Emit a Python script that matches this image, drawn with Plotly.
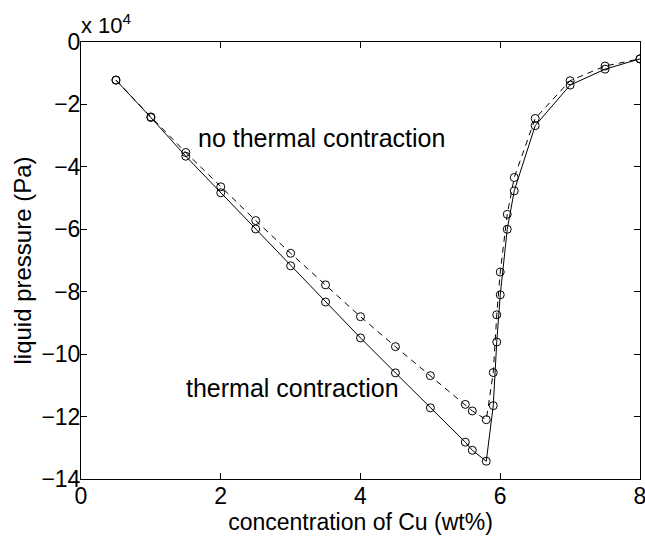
import plotly.graph_objects as go

# concentration of Cu (wt%)
cu = [0.5, 1.0, 1.5, 2.0, 2.5, 3.0, 3.5, 4.0, 4.5, 5.0, 5.5, 5.6, 5.8,
      5.9, 5.95, 6.0, 6.1, 6.2, 6.5, 7.0, 7.5, 8.0]
# liquid pressure (x 10^4 Pa)
p_thermal = [-1.22, -2.42, -3.66, -4.83, -5.99, -7.17, -8.33, -9.48, -10.60,
             -11.72, -12.82, -13.08, -13.43, -11.65, -9.61, -8.10, -6.00,
             -4.77, -2.68, -1.38, -0.87, -0.54]
p_no_thermal = [-1.22, -2.40, -3.54, -4.64, -5.72, -6.77, -7.78, -8.80, -9.76,
                -10.69, -11.61, -11.82, -12.10, -10.59, -8.74, -7.37, -5.52,
                -4.34, -2.45, -1.24, -0.77, -0.54]

x_ticks = [0, 2, 4, 6, 8]
y_ticks = [0, -2, -4, -6, -8, -10, -12, -14]
y_tick_text = ["0", "\u22122", "\u22124", "\u22126", "\u22128", "\u221210", "\u221212", "\u221214"]

FONT = "Liberation Sans, Arial, Helvetica, sans-serif"

fig = go.Figure()
fig.add_trace(go.Scatter(
    x=cu, y=p_no_thermal, mode="lines+markers",
    line=dict(color="black", width=1, dash="6px,5px"),
    marker=dict(symbol="circle-open", size=8, color="black", line=dict(width=1)),
    showlegend=False))
fig.add_trace(go.Scatter(
    x=cu, y=p_thermal, mode="lines+markers",
    line=dict(color="black", width=1),
    marker=dict(symbol="circle-open", size=8, color="black", line=dict(width=1)),
    showlegend=False))

fig.add_annotation(x=1.64, y=-3.08, text="no thermal contraction", showarrow=False,
                   xanchor="left", yanchor="middle", font=dict(size=25, color="black", family=FONT))
fig.add_annotation(x=1.48, y=-11.09, text="thermal contraction", showarrow=False,
                   xanchor="left", yanchor="middle", font=dict(size=25, color="black", family=FONT))
fig.add_annotation(x=0, y=1.0, xref="x", yref="paper", text="x 10<sup>4</sup>", showarrow=False,
                   xanchor="left", yanchor="bottom", xshift=-2, yshift=2,
                   font=dict(size=22, color="black", family=FONT))

axis_common = dict(showgrid=False, zeroline=False, showline=True, linecolor="black", linewidth=1,
                   mirror="ticks", ticks="inside", ticklen=6, tickcolor="black",
                   ticklabeloverflow="allow", automargin=False,
                   tickfont=dict(size=23, color="black", family=FONT))
fig.update_xaxes(range=[0, 8], tickvals=x_ticks, ticktext=[str(v) for v in x_ticks],
                 ticklabelstandoff=-4,
                 title=dict(text="concentration of Cu (wt%)", font=dict(size=23, color="black", family=FONT),
                            standoff=0),
                 **axis_common)
fig.update_yaxes(range=[-14, 0], tickvals=y_ticks, ticktext=y_tick_text,
                 ticklabelstandoff=-5,
                 title=dict(text="liquid pressure (Pa)", font=dict(size=24, color="black", family=FONT),
                            standoff=2),
                 **axis_common)

fig.update_layout(width=645, height=538, margin=dict(l=81, r=5, t=42, b=59),
                  plot_bgcolor="white", paper_bgcolor="white",
                  font=dict(family=FONT, color="black"))
fig.write_html("out.html")
